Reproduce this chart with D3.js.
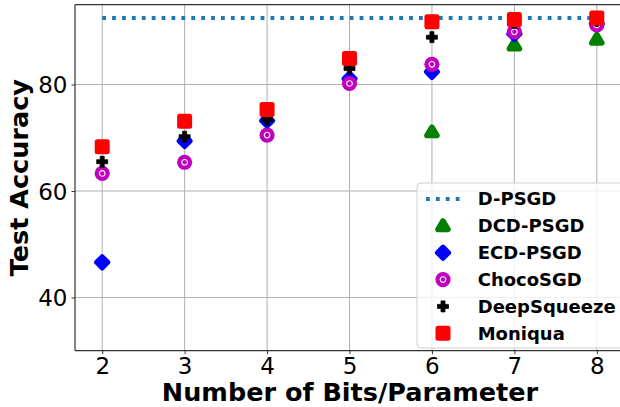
<!DOCTYPE html>
<html>
<head>
<meta charset="utf-8">
<script src="https://cdn.jsdelivr.net/npm/d3@7"></script>
<style>
    body { margin: 0; background: #fff; }
    svg { display: block; font-family: "DejaVu Sans", sans-serif; }
</style>
</head>
<body>
<div id="chart-frame"></div>
<script>
// values
var bits = [2, 3, 4, 5, 6, 7, 8];
var xTicks = [2, 3, 4, 5, 6, 7, 8];
var yTicks = [40, 60, 80];
var dPsgd = 92.5;
var dcdPsgd = [null, null, null, null, 71.1, 87.4, 88.5];
var ecdPsgd = [46.6, 69.4, 73.2, 81.1, 82.4, 89.5, 91.4];
var chocoSgd = [63.3, 65.4, 70.5, 80.2, 83.8, 89.9, 91.2];
var deepSqueeze = [65.5, 70.2, 73.4, 83.0, 88.9, 91.6, 92.0];
var moniqua = [68.3, 73.1, 75.3, 84.9, 91.8, 92.2, 92.5];

var WIDTH = 620, HEIGHT = 407;
var PLOT = { "left": 75, "right": 624, "top": 4.7, "bottom": 350.7 };

var svg = d3.select("#chart-frame")
    .append("svg")
    .attr("width", WIDTH)
    .attr("height", HEIGHT);

var x = d3.scaleLinear().domain([1.67, 8.33]).range([PLOT.left, PLOT.right]);
var y = d3.scaleLinear().domain([30, 95]).range([PLOT.bottom, PLOT.top]);

// marker shapes, drawn around (0,0); thick round stroke softens the corners
var trianglePath = "M0,-4.8L5,3.6L-5,3.6Z";
var diamondPath = "M0,-5.6L5.6,0L0,5.6L-5.6,0Z";
var squarePath = "M-5,-5H5V5H-5Z";
var plusPath = "M-2,-5.5H2V-2H5.5V2H2V5.5H-2V2H-5.5V-2H-2Z";

var series = [
    { "name": "DCD-PSGD", "values": dcdPsgd, "color": "green", "kind": "triangle" },
    { "name": "ECD-PSGD", "values": ecdPsgd, "color": "blue", "kind": "diamond" },
    { "name": "ChocoSGD", "values": chocoSgd, "color": "#bf00bf", "kind": "choco" },
    { "name": "DeepSqueeze", "values": deepSqueeze, "color": "black", "kind": "plus" },
    { "name": "Moniqua", "values": moniqua, "color": "red", "kind": "square" }
];

function drawMarker(g, s) {
    if (s.kind == "choco") {
        g.append("circle").attr("r", 7.6).attr("fill", s.color);
        g.append("circle").attr("r", 2.8).attr("fill", "none")
            .attr("stroke", "white").attr("stroke-width", 1.1);
        return;
    }
    var d = { "triangle": trianglePath, "diamond": diamondPath, "square": squarePath, "plus": plusPath }[s.kind];
    var sw = s.kind == "plus" ? 0.8 : (s.kind == "triangle" ? 5.6 : 5);
    g.append("path").attr("d", d)
        .attr("fill", s.color)
        .attr("stroke", s.color)
        .attr("stroke-width", sw)
        .attr("stroke-linejoin", s.kind == "plus" ? "miter" : "round");
}

// grid
svg.selectAll(".vgrid")
    .data(xTicks)
    .enter().append("line")
    .attr("x1", function(d) { return x(d); })
    .attr("x2", function(d) { return x(d); })
    .attr("y1", PLOT.top).attr("y2", PLOT.bottom)
    .attr("stroke", "#b0b0b0").attr("stroke-width", 1);

svg.selectAll(".hgrid")
    .data(yTicks)
    .enter().append("line")
    .attr("x1", PLOT.left).attr("x2", PLOT.right)
    .attr("y1", function(d) { return y(d); })
    .attr("y2", function(d) { return y(d); })
    .attr("stroke", "#b0b0b0").attr("stroke-width", 1);

// D-PSGD reference line
svg.append("line")
    .attr("x1", x(bits[0])).attr("x2", x(bits[bits.length - 1]))
    .attr("y1", y(dPsgd)).attr("y2", y(dPsgd))
    .attr("stroke", "#1f77b4")
    .attr("stroke-width", 3.8)
    .attr("stroke-dasharray", "3.8 6.1");

// markers
series.forEach(function(s) {
    s.values.forEach(function(v, i) {
        if (v === null) return;
        var g = svg.append("g")
            .attr("transform", "translate(" + x(bits[i]) + "," + y(v) + ")");
        drawMarker(g, s);
    });
});

// axes
var xAxis = svg.append("g")
    .attr("transform", "translate(0," + PLOT.bottom + ")")
    .call(d3.axisBottom(x).tickValues(xTicks).tickFormat(d3.format("d")).tickSize(3.5).tickPadding(3.5));
var yAxis = svg.append("g")
    .attr("transform", "translate(" + PLOT.left + ",0)")
    .call(d3.axisLeft(y).tickValues(yTicks).tickFormat(d3.format("d")).tickSize(3.5).tickPadding(4));

[xAxis, yAxis].forEach(function(a) {
    a.select(".domain").remove();
    a.selectAll("text")
        .attr("font-family", "DejaVu Sans")
        .attr("font-size", 23)
        .attr("fill", "black");
    a.selectAll(".tick line").attr("stroke", "#333");
});
yAxis.selectAll("text").attr("dy", "0.36em");

// spines
svg.append("line").attr("x1", PLOT.left).attr("x2", PLOT.left)
    .attr("y1", PLOT.top).attr("y2", PLOT.bottom)
    .attr("stroke", "#333").attr("stroke-width", 1.2);
svg.append("line").attr("x1", PLOT.left).attr("x2", WIDTH)
    .attr("y1", PLOT.bottom).attr("y2", PLOT.bottom)
    .attr("stroke", "#333").attr("stroke-width", 1.2);
svg.append("line").attr("x1", PLOT.left).attr("x2", WIDTH)
    .attr("y1", PLOT.top).attr("y2", PLOT.top)
    .attr("stroke", "#333").attr("stroke-width", 1.2);

// axis labels
svg.append("text")
    .attr("x", 350)
    .attr("y", 401)
    .attr("text-anchor", "middle")
    .attr("font-size", 25.5).attr("font-weight", "bold")
    .text("Number of Bits/Parameter");

svg.append("text")
    .attr("transform", "translate(28," + ((PLOT.top + PLOT.bottom) / 2) + ") rotate(-90)")
    .attr("text-anchor", "middle")
    .attr("font-size", 25.5).attr("font-weight", "bold")
    .text("Test Accuracy");

// legend
var legend = svg.append("g");
legend.append("rect")
    .attr("x", 417).attr("y", 183)
    .attr("width", 230).attr("height", 165)
    .attr("rx", 4)
    .attr("fill", "white").attr("fill-opacity", 0.8)
    .attr("stroke", "#d0d0d0").attr("stroke-width", 1);

var legendItems = [{ "name": "D-PSGD", "kind": "line" }].concat(series);
var LEGEND_ROW = 26.85;

legendItems.forEach(function(s, i) {
    var ly = 199 + i * LEGEND_ROW;
    if (s.kind == "line") {
        legend.append("line")
            .attr("x1", 426).attr("x2", 460)
            .attr("y1", ly).attr("y2", ly)
            .attr("stroke", "#1f77b4")
            .attr("stroke-width", 3.8)
            .attr("stroke-dasharray", "3.8 6.1");
    } else {
        var g = legend.append("g").attr("transform", "translate(443," + ly + ")");
        drawMarker(g, s);
    }
    legend.append("text")
        .attr("x", 477.7).attr("y", ly)
        .attr("dy", "0.36em")
        .attr("font-size", 18).attr("font-weight", "bold")
        .text(s.name);
});
</script>
</body>
</html>
